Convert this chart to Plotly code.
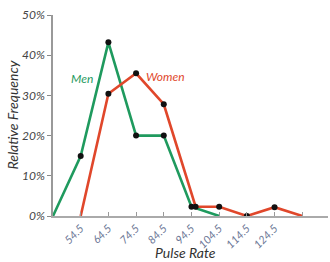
import plotly.graph_objects as go

men_x = [44.5, 54.5, 64.5, 74.5, 84.5, 94.5, 104.5]
men_y = [0, 14.9, 43.2, 20, 20, 2.3, 0]
men_markers = [False, True, True, True, True, True, False]

women_x = [54.5, 64.5, 74.5, 84.5, 96, 104.5, 114.5, 124.5, 134.5]
women_y = [0, 30.4, 35.5, 27.8, 2.3, 2.3, 0, 2.2, 0]
women_markers = [False, True, True, True, True, True, True, True, False]

x_ticks = [54.5, 64.5, 74.5, 84.5, 94.5, 104.5, 114.5, 124.5, 134.5]
x_tick_labels = ["54.5", "64.5", "74.5", "84.5", "94.5", "104.5", "114.5", "124.5", ""]
y_ticks = [0, 10, 20, 30, 40, 50]
y_tick_labels = ["0%", "10%", "20%", "30%", "40%", "50%"]

GREEN = "#1f9a5e"
RED = "#e0472b"
FONT = "Lato"

fig = go.Figure()
fig.add_trace(go.Scatter(x=men_x, y=men_y, mode="lines",
                         line=dict(color=GREEN, width=2.6), hoverinfo="skip"))
fig.add_trace(go.Scatter(x=women_x, y=women_y, mode="lines",
                         line=dict(color=RED, width=2.6), hoverinfo="skip"))
fig.add_trace(go.Scatter(x=[x for x, m in zip(men_x, men_markers) if m],
                         y=[y for y, m in zip(men_y, men_markers) if m],
                         mode="markers", marker=dict(color="#111111", size=6)))
fig.add_trace(go.Scatter(x=[x for x, m in zip(women_x, women_markers) if m],
                         y=[y for y, m in zip(women_y, women_markers) if m],
                         mode="markers", marker=dict(color="#111111", size=6)))

fig.add_annotation(x=55, y=34.3, text="Men", showarrow=False,
                   font=dict(family=FONT, size=12, color=GREEN, style="italic"))
fig.add_annotation(x=85.3, y=34.6, text="Women", showarrow=False,
                   font=dict(family=FONT, size=12, color=RED, style="italic"))
# axis titles
fig.add_annotation(xref="paper", yref="paper", x=-0.149, y=0.5, textangle=-90,
                   xanchor="center", yanchor="middle",
                   text="Relative Frequency", showarrow=False,
                   font=dict(family=FONT, size=14, color="#333333", style="italic"))
fig.add_annotation(xref="paper", yref="paper", x=0.48, y=-0.184,
                   xanchor="center", yanchor="middle",
                   text="Pulse Rate", showarrow=False,
                   font=dict(family=FONT, size=14, color="#333333", style="italic"))

fig.update_layout(
    width=330, height=262,
    margin=dict(l=53, r=2, t=15, b=46),
    paper_bgcolor="white", plot_bgcolor="white",
    showlegend=False,
    xaxis=dict(range=[44.5, 143.8], tickvals=x_ticks, ticktext=x_tick_labels,
               tickangle=-45, ticks="inside", ticklen=4, tickcolor="#999999",
               showline=True, linecolor="#aaaaaa", linewidth=1.5,
               showgrid=False, zeroline=False, automargin=False,
               tickfont=dict(family=FONT, size=11, color="#6a7594", style="italic")),
    yaxis=dict(range=[0, 50], tickvals=y_ticks, ticktext=y_tick_labels,
               ticks="outside", ticklen=4, tickcolor="#888888",
               showline=True, linecolor="#999999", linewidth=1.5,
               showgrid=False, zeroline=False, automargin=False,
               tickfont=dict(family=FONT, size=12, color="#444444", style="italic")),
)

fig.write_html("out.html", config={"displayModeBar": False},
               post_script="document.body.style.margin='0';document.body.style.padding='0';")
